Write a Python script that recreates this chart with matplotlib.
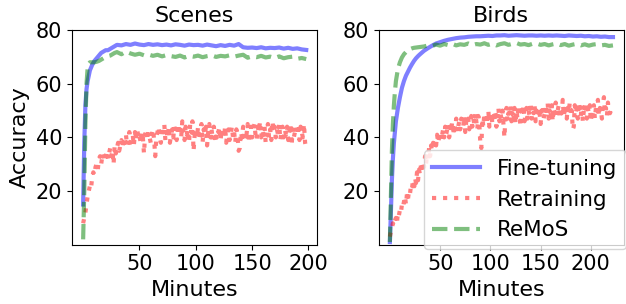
import numpy as np
import matplotlib
matplotlib.use('Agg')
import matplotlib.pyplot as plt

# ---- Scenes ----
sc_head_x = [0, 1, 2, 3, 4, 5, 6, 8, 10, 12, 14, 16, 18, 20, 22, 24, 26, 28, 30]
sc_tail_x = np.arange(34, 199, 4)
sc_ft = [15, 38, 52, 58, 61, 63, 65, 67, 68.5, 69.5, 70.5, 71.5, 72, 72.5, 72.5, 73, 73.5, 74, 74.5,
         74.3, 74.8, 74.5, 75, 74.6, 74.4, 74.8, 74.5, 74.7, 74.4,
         74.6, 74.3, 74.7, 74.5, 74.2, 74.6, 74.4, 74.5, 74.2, 74.6,
         74.3, 74.0, 74.4, 74.1, 74.5, 74.2, 74.8, 73.6, 73.4, 73.5,
         73.3, 73.6, 73.2, 73.4, 73.3, 73.5, 73.1, 73.4, 73.0, 73.2,
         72.8, 72.6]
sc_remos = [2, 20, 45, 60, 66, 67.5, 68, 68, 68, 68.2, 68.5, 69, 69.5, 70, 70.3, 70.5, 71, 71.5, 71.8,
            71, 72, 71.3, 70.8, 71.2, 70.6, 70.9, 70.4, 70.8, 70.2,
            70.7, 70.3, 70.0, 70.5, 69.8, 70.4, 70.1, 70.5, 69.9, 70.3,
            70.6, 70.0, 70.4, 70.2, 70.6, 70.1, 70.5, 70.8, 69.7, 70.2,
            69.9, 70.4, 69.8, 70.1, 69.6, 70.2, 69.5, 69.9, 70.1, 69.3,
            69.6, 69.2]
sc_rt_x = np.arange(0, 199)
sc_rt = [8, 10, 12, 15, 18, 20, 22, 21, 25, 27,
         26, 29, 30, 28, 32, 33, 30, 33, 34, 31,
         33, 35, 32, 34, 36, 33, 35, 30, 37, 34,
         36, 38, 35, 37, 39, 36, 40, 38, 41, 37,
         39, 42, 38, 40, 41, 37, 42, 39, 43, 40,
         41, 38, 42, 40, 34, 41, 43, 39, 42, 40,
         38, 41, 43, 39, 33, 40, 42, 44, 40, 38,
         43, 41, 45, 39, 42, 40, 44, 38, 41, 43,
         40, 44, 42, 39, 45, 41, 43, 40, 46, 42,
         39, 44, 41, 43, 38, 45, 42, 46, 35, 41,
         43, 40, 44, 39, 42, 45, 38, 43, 41, 44,
         37, 42, 45, 40, 43, 39, 44, 41, 38, 43,
         42, 44, 39, 43, 41, 40, 44, 38, 42, 43,
         39, 41, 44, 40, 42, 38, 43, 41, 35, 36,
         42, 40, 44, 43, 39, 41, 45, 38, 42, 44,
         40, 43, 45, 41, 39, 44, 42, 46, 40, 43,
         41, 44, 38, 42, 45, 40, 43, 39, 46, 42,
         44, 40, 43, 41, 45, 39, 42, 44, 40, 43,
         41, 44, 39, 42, 45, 37, 43, 40, 42, 44,
         41, 43, 39, 44, 42, 40, 45, 38, 36]

# ---- Birds ----
bd_head_x = [0, 1, 2, 3, 4, 5, 6, 8, 10, 12, 14, 16, 18, 20, 22, 24, 26, 28, 30]
bd_tail_x = np.arange(34, 223, 4)
bd_ft = [1, 12, 24, 32, 38, 42, 46, 51, 55, 58.5, 61, 63, 64.5, 66, 67.3, 68.5, 69.5, 70.3, 71,
         72.3, 73.3, 74.2, 75, 75.5, 76, 76.4, 76.7, 77, 77.2,
         77.3, 77.5, 77.6, 77.7, 77.7, 77.8, 77.9, 77.8, 78, 78,
         78.1, 77.9, 78, 78.1, 78, 77.9, 78, 78, 77.9, 78,
         77.9, 78, 77.9, 78, 77.9, 77.8, 78, 77.9, 77.8, 77.9,
         77.7, 77.8, 77.6, 77.7, 77.5, 77.6, 77.4, 77.4]
bd_remos = [1, 18, 35, 45, 52, 57, 61, 65.5, 68, 69.8, 71, 71.8, 72.5, 72.9, 73.2, 73.4, 73.5, 73.6, 73.7,
            73.9, 74.3, 74.1, 74.6, 74.2, 74.8, 74.4, 74.9, 74.3, 74.7,
            74.5, 75.0, 74.4, 74.8, 74.6, 75.1, 74.5, 74.9, 74.3, 74.8,
            75.1, 74.5, 74.9, 75.2, 74.6, 74.8, 74.4, 74.9, 75.0, 74.5,
            74.8, 74.3, 74.7, 75.0, 74.4, 74.8, 74.2, 74.6, 74.9, 74.3,
            74.7, 74.2, 74.6, 74.8, 74.3, 74.5, 74.1, 74.3]
bd_rt_x = np.arange(0, 221)
bd_rt = [3, 5, 6, 8, 7, 9, 10, 8, 12, 11,
         13, 12, 15, 14, 16, 18, 15, 19, 17, 20,
         19, 22, 21, 24, 20, 25, 23, 27, 24, 28,
         26, 30, 28, 31, 29, 33, 30, 34, 32, 36,
         33, 37, 35, 38, 36, 39, 37, 41, 38, 40,
         42, 39, 41, 43, 40, 44, 41, 43, 45, 40,
         44, 42, 46, 41, 45, 43, 47, 42, 44, 46,
         43, 47, 45, 44, 48, 42, 46, 45, 47, 43,
         46, 48, 44, 47, 45, 49, 46, 43, 48, 45,
         38, 36, 47, 44, 49, 46, 48, 45, 50, 44,
         47, 49, 45, 48, 46, 50, 44, 48, 51, 46,
         49, 47, 50, 45, 40, 48, 51, 46, 49, 47,
         52, 46, 49, 48, 51, 45, 50, 47, 52, 48,
         44, 50, 48, 52, 46, 49, 51, 47, 50, 48,
         53, 47, 50, 49, 52, 46, 50, 48, 51, 49,
         45, 50, 52, 47, 49, 51, 48, 53, 47, 50,
         49, 52, 46, 51, 49, 53, 48, 50, 52, 47,
         51, 49, 54, 48, 50, 52, 47, 51, 49, 53,
         48, 50, 43, 44, 52, 49, 51, 47, 53, 50,
         48, 52, 46, 50, 49, 53, 47, 51, 49, 52,
         46, 50, 48, 52, 47, 51, 49, 54, 48, 51,
         50, 47, 52, 55, 49, 51, 48, 53, 50, 49,
         50]

panels = [
    ('Scenes', np.concatenate([sc_head_x, sc_tail_x]), sc_ft, sc_remos, sc_rt_x, sc_rt),
    ('Birds', np.concatenate([bd_head_x, bd_tail_x]), bd_ft, bd_remos, bd_rt_x, bd_rt),
]

fig, axes = plt.subplots(1, 2, figsize=(6.26, 3.04), dpi=100)
plt.subplots_adjust(left=0.115, right=0.997, bottom=0.195, top=0.901, wspace=0.25)

for ax, (title, x, ft, remos, rx, rt) in zip(axes, panels):
    ax.plot(x, ft, 'b-', alpha=0.5, linewidth=3, label='Fine-tuning')
    ax.plot(rx, rt, 'r:', alpha=0.5, linewidth=3, label='Retraining')
    ax.plot(x, remos, 'g--', alpha=0.5, linewidth=3, label='ReMoS')
    ax.set_title(title, fontsize=16)
    ax.set_xlabel('Minutes', fontsize=16)
    ax.set_ylim(0, 80)
    ax.set_yticks([20, 40, 60, 80])
    ax.set_xticks([50, 100, 150, 200])
    ax.tick_params(labelsize=15)

axes[0].set_ylabel('Accuracy', fontsize=16)
axes[1].legend(loc='lower right', bbox_to_anchor=(1.0, 55 / 304), bbox_transform=fig.transFigure,
               borderaxespad=0, fontsize=15.5, handlelength=2.2)

fig.savefig('out.png', dpi=100)
